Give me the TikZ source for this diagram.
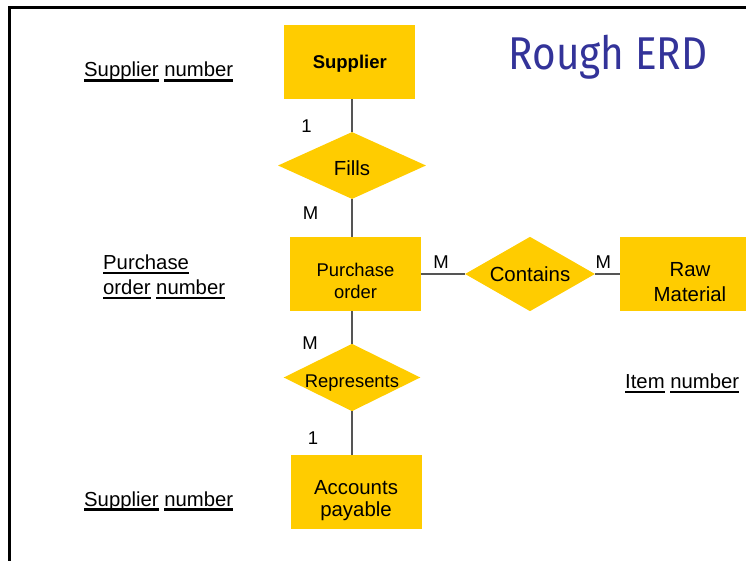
\documentclass[tikz,border=0pt]{standalone}
\usepackage{fontspec}
\setmainfont{Liberation Sans}
\newfontfamily\titlefont[FakeStretch=0.88]{Fira Sans}
\definecolor{ergold}{RGB}{255,204,0}
\definecolor{titleblue}{RGB}{51,51,153}
\definecolor{linegray}{RGB}{85,85,85}
\usetikzlibrary{shapes.geometric}
\newcommand\uw[1]{\setbox0\hbox{#1}\rlap{\rule[-4.6pt]{\wd0}{2.4pt}}\box0\relax}

\begin{document}
\begin{tikzpicture}[x=1pt, y=-1pt,
        entity/.style={rectangle, fill=ergold, minimum width=131pt, minimum height=74pt,
                       inner sep=0pt, align=center, text depth=0pt,
                       font=\fontsize{20.4}{25}\selectfont},
        relation/.style={diamond, aspect=2, fill=ergold, inner sep=0pt, text depth=0pt,
                         font=\fontsize{20.4}{23}\selectfont},
        attr/.style={inner sep=0pt, align=left, font=\fontsize{20.3}{25}\selectfont},
        card/.style={inner sep=0pt, anchor=base, font=\fontsize{18.5}{20}\selectfont},
        link/.style={draw=linegray, line width=1.2pt}
    ]
        \clip (0,0) rectangle (746,561);
        \draw[line width=3pt] (9.8,580) -- (9.8,7.5) -- (760,7.5);

        \node[anchor=base, text=titleblue, font=\titlefont\fontsize{46}{50}\selectfont]
              (title) at (608,70) {Rough ERD};

        \node[entity, text height=12.6pt, font=\bfseries\fontsize{18.5}{21}\selectfont]
              (sup) at (349.8,62.2) {Supplier};
        \node[relation, minimum width=148pt, minimum height=67pt, text height=21pt]
              (fills) at (352,165.5) {Fills};
        \node[entity, text height=48pt, font=\fontsize{18.4}{22}\selectfont]
              (po) at (355.5,274) {Purchase\\order};
        \node[relation, minimum width=130pt, minimum height=74.4pt, text height=15pt]
              (cont) at (530,274) {Contains};
        \node[entity, minimum width=140pt, text height=54pt]
              (raw) at (690,274) {Raw\\Material};
        \node[relation, minimum width=136.7pt, minimum height=67pt, text height=20.4pt,
              font=\fontsize{18.4}{21}\selectfont]
              (rep) at (352,377.5) {Represents};
        \node[entity, text height=49pt, font=\fontsize{20.4}{22.4}\selectfont]
              (ap) at (356,492.2) {Accounts\\payable};

        \node[attr, anchor=base west] (supnum) at (84,77) {\uw{Supplier} \uw{number}};
        \node[attr, anchor=north west] (ponum) at (103,254.5) {\uw{Purchase}\\\uw{order} \uw{number}};
        \node[attr, anchor=base west] (itemnum) at (625,388.5) {\uw{Item} \uw{number}};
        \node[attr, anchor=base west] (apnum) at (84,506) {\uw{Supplier} \uw{number}};

        \draw[link] (sup.south -| fills.north) -- (fills.north);
        \draw[link] (fills.south) -- (fills.south |- po.north);
        \draw[link] (po.south -| rep.north) -- (rep.north);
        \draw[link] (rep.south) -- (rep.south |- ap.north);
        \foreach \a/\b in {po/cont, cont/raw}
            \draw[link] (\a.east) -- (\b.west);

        \node[card] (c1) at (306.5,133) {1};
        \node[card] (c2) at (310.5,220) {M};
        \node[card] (c3) at (441,268.7) {M};
        \node[card] (c4) at (603.3,268.7) {M};
        \node[card] (c5) at (310,349.3) {M};
        \node[card] (c6) at (313,444) {1};
    \end{tikzpicture}
\end{document}
